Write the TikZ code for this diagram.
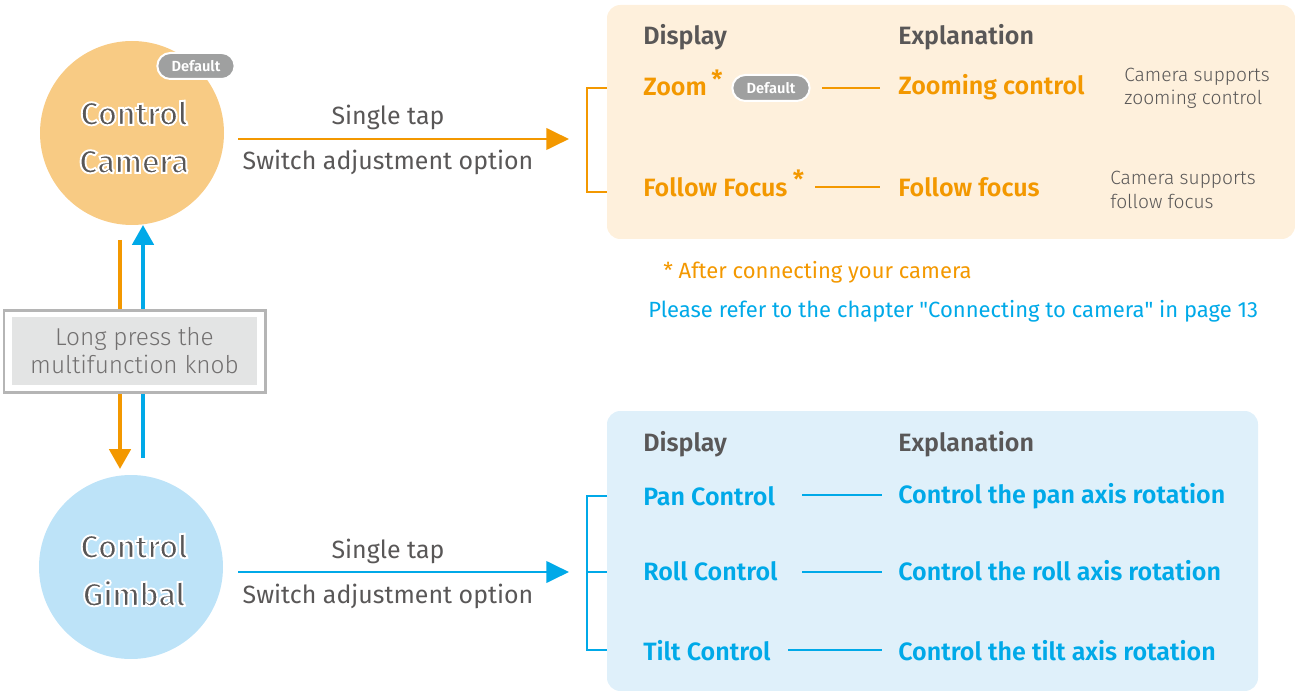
\documentclass[tikz,border=0pt]{standalone}
\usepackage{fontspec}
\setmainfont{Fira Sans}
\newfontfamily\flight{Fira Sans Light}
\newfontfamily\fsemi{Fira Sans SemiBold}
\usetikzlibrary{arrows.meta,shapes.misc}
\definecolor{org}{HTML}{F39800}
\definecolor{blu}{HTML}{00A9E8}
\definecolor{txt}{HTML}{595757}
\definecolor{camfill}{HTML}{F8CB84}
\definecolor{gimfill}{HTML}{BDE3F8}
\definecolor{toppan}{HTML}{FEF0DC}
\definecolor{botpan}{HTML}{DFF0FA}
\definecolor{badgeg}{HTML}{9FA0A0}
\definecolor{boxin}{HTML}{E3E4E4}
\definecolor{boxline}{HTML}{B5B5B5}
\newcommand{\haloon}{\special{pdf:code 2 Tr 1.4 w 1 1 1 RG}}
\newcommand{\halooff}{\special{pdf:code 0 Tr}}
\tikzset{
  bigcircle/.style={circle,minimum size=138pt,inner sep=0},
  circtext/.style={font=\fsemi\fontsize{24}{36}\selectfont,text=txt,align=center,inner sep=0},
  badge/.style={rounded rectangle,fill=badgeg,draw=white,line width=1.5pt,text=white,font=\fsemi\fontsize{11}{12}\selectfont,minimum width=58pt,minimum height=19.5pt,inner sep=0},
  maintext/.style={font=\fontsize{18.7}{22}\selectfont,text=txt,inner sep=0},
  head/.style={font=\fsemi\fontsize{18.8}{22}\selectfont,text=txt,anchor=west,inner sep=0},
  oitem/.style={font=\fsemi\fontsize{18.8}{22}\selectfont,text=org,anchor=west,inner sep=0},
  bitem/.style={font=\fsemi\fontsize{18.8}{22}\selectfont,text=blu,anchor=west,inner sep=0},
  star/.style={font=\fsemi\fontsize{18.8}{22}\selectfont,text=org,anchor=west,inner sep=0},
  note/.style={font=\flight\fontsize{14.4}{17.5}\selectfont,text=txt,anchor=west,align=left,inner sep=0},
  foot/.style={font=\fontsize{16.5}{20}\selectfont,anchor=west,inner sep=0},
  arr/.style={line width=2.2pt,-{Triangle[length=17pt,width=16pt]}},
  varr/.style={line width=3pt,-{Triangle[length=15pt,width=16pt]}},
  thin/.style={line width=0.9pt},
  brack/.style={line width=2pt},
}
\begin{document}
\begin{tikzpicture}[x=0.75pt,y=-0.75pt]
\useasboundingbox (0,0) rectangle (1295,691);
% panels
\fill[toppan,rounded corners=10pt] (607,5) rectangle (1295,239);
\fill[botpan,rounded corners=10pt] (607,411) rectangle (1258,691);
% circles
\node[bigcircle,fill=camfill] (cam) at (132,133) {};
\node[badge] (camdef) at (196,66) {Default};
\node[bigcircle,fill=gimfill] (gim) at (131,567) {};
% vertical arrows
\coordinate (o1) at (120,240);
\coordinate (o2) at (120,469);
\coordinate (b1) at (143,458);
\coordinate (b2) at (143,225);
\draw[varr,org] (o1) -- (o2);
\draw[varr,blu] (b1) -- (b2);
% long press box
\node[draw=boxline,line width=2pt,fill=white,minimum width=196pt,minimum height=61pt,inner sep=0] (lpbox) at (134.5,351.5) {};
\node[fill=boxin,minimum width=183.75pt,minimum height=51pt,inner sep=0,text=txt!85,font=\flight\fontsize{18.3}{21}\selectfont,align=center] (lp) at (134.5,351) {Long press the\\multifunction knob};
% horizontal arrows
\coordinate (ta1) at (238,139);
\coordinate (ta2) at (569,139);
\draw[arr,org] (ta1) -- (ta2);
\node[maintext] (tst) at (388,117) {Single tap};
\node[maintext] (tsw) at (388,162) {Switch adjustment option};
\coordinate (ba1) at (238,572);
\coordinate (ba2) at (569,572);
\draw[arr,blu] (ba1) -- (ba2);
\node[maintext] (bst) at (388,551) {Single tap};
\node[maintext] (bsw) at (388,596) {Switch adjustment option};
% top panel content
\node[head] (th1) at (643,37) {Display};
\node[head] (th2) at (898,37) {Explanation};
\node[oitem] (zoom) at (643,87) {Zoom};
\node[star] (zst) at ([shift={(4,-8)}]zoom.east) {*};
\node[badge] (zdef) at (771,88) {Default};
\node[oitem] (zc) at (898,87) {Zooming control};
\draw[thin,org] (822,88) coordinate (zl1) -- (880,88) coordinate (zl2);
\node[note] (zn) at (1124,88) {Camera supports\\zooming control};
\node[oitem] (ff) at (643,187) {Follow Focus};
\node[star] (fst) at ([shift={(5,-8)}]ff.east) {*};
\draw[thin,org] (815,187) coordinate (fl1) -- (880,187) coordinate (fl2);
\node[oitem] (fc) at (898,187) {Follow focus};
\node[note] (fn) at (1110,190) {Camera supports\\follow focus};
% orange bracket
\draw[brack,org] (607,88) coordinate (bk1) -- (587,88) -- (587,192) -- (607,192) coordinate (bk2);
% notes
\node[foot,text=org] (n1) at (663,272) {* After connecting your camera};
\node[foot,text=blu] (n2) at (648,311) {Please refer to the chapter \textquotedbl Connecting to camera\textquotedbl\ in page 13};
% bottom panel content
\node[head] (bh1) at (643,444) {Display};
\node[head] (bh2) at (898,444) {Explanation};
\node[bitem] (pan) at (643,496) {Pan Control};
\node[bitem] (panx) at (898,496) {Control the pan axis rotation};
\draw[thin,blu] (802,495) coordinate (pl1) -- (882,495) coordinate (pl2);
\node[bitem] (roll) at (643,571) {Roll Control};
\node[bitem] (rollx) at (898,571) {Control the roll axis rotation};
\draw[thin,blu] (802,572) coordinate (rl1) -- (882,572) coordinate (rl2);
\node[bitem] (tilt) at (643,651) {Tilt Control};
\node[bitem] (tiltx) at (898,651) {Control the tilt axis rotation};
\draw[thin,blu] (788,650) coordinate (tl1) -- (882,650) coordinate (tl2);
\draw[brack,blu] (607,496) -- (587,496) -- (587,650) -- (607,650);
\draw[brack,blu] (587,572) -- (607,572);
% circle texts (white halo via text render mode, drawn last)
\node[circtext] (camtext) at (134,137) {\haloon Control\\Camera\halooff};
\node[circtext] (gimtext) at (134,570) {\haloon Control\\Gimbal\halooff};
\end{tikzpicture}
\end{document}
